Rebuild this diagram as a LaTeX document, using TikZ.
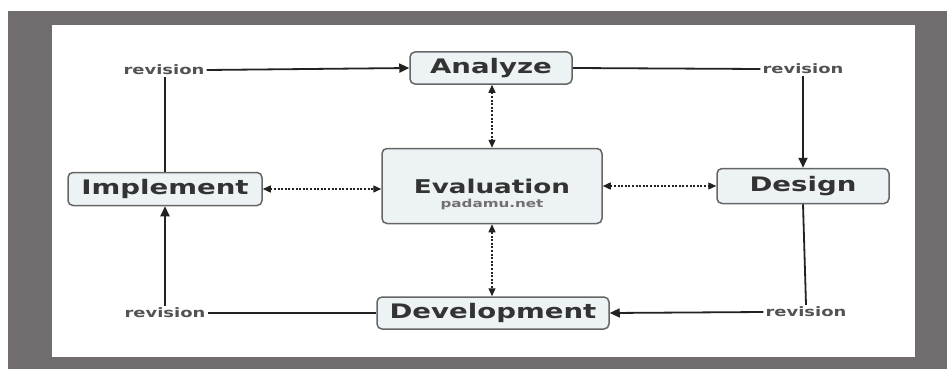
\documentclass[tikz,border=0pt]{standalone}
\usepackage{fontspec}
\usetikzlibrary{arrows.meta}
\newfontfamily\lblfont{DejaVu Sans}[FakeStretch=1.38]
\definecolor{framegray}{HTML}{716D6E}
\definecolor{boxfill}{HTML}{EDF2F4}
\definecolor{boxdraw}{HTML}{666666}
\definecolor{txt}{HTML}{333333}
\definecolor{linec}{HTML}{222222}
\tikzset{
  stagebox/.style={draw=boxdraw, fill=boxfill, rounded corners=5pt, line width=1.5pt,
    inner sep=0pt, font=\lblfont\bfseries\fontsize{20}{22}\selectfont, text=txt},
  revlabel/.style={inner sep=2pt, font=\lblfont\bfseries\fontsize{13}{14}\selectfont, text=txt!85},
  flow/.style={draw=linec, line width=1.8pt},
  flowarrow/.style={flow, -{Triangle[length=10pt,width=9pt]}},
  dots/.style={draw=linec, line width=1.3pt, dash pattern=on 2pt off 1.6pt,
    {Triangle[length=8pt,width=7pt]}-{Triangle[length=8pt,width=7pt]}}
}
\begin{document}
\begin{tikzpicture}[x=1pt,y=-1pt]
\useasboundingbox (0,0) rectangle (947,369);
% frame
\fill[framegray] (8,11) rectangle (947,369);
\fill[white] (52,25) rectangle (915,357);

% stages
\node[stagebox, minimum width=162pt, minimum height=32pt] (analyze) at (491,68) {Analyze};
\node[stagebox, minimum width=220pt, minimum height=75pt] (eval) at (492,186) {};
\node[inner sep=0pt, text=txt, font=\lblfont\bfseries\fontsize{19}{20}\selectfont] (evaltext) at (492,186) {Evaluation};
\node[inner sep=0pt, text=txt!70, font=\lblfont\bfseries\fontsize{11}{12}\selectfont] (evalsub) at (492,204) {padamu.net};
\node[stagebox, minimum width=194pt, minimum height=33pt] (impl) at (165,189) {Implement};
\node[stagebox, minimum width=172pt, minimum height=35pt] (design) at (803,186) {Design};
\node[stagebox, minimum width=232pt, minimum height=32pt] (devel) at (493,313) {Development};

% revision labels
\node[revlabel] (revTL) at (164,70) {revision};
\node[revlabel] (revTR) at (803,69) {revision};
\node[revlabel] (revBL) at (165,313) {revision};
\node[revlabel] (revBR) at (806,312) {revision};

% revision cycle
\draw[flow] (impl.north) -- (revTL.south -| impl.north);
\draw[flowarrow] (revTL.east) -- (analyze.west);
\draw[flow] (analyze.east) -- (revTR.west);
\draw[flowarrow] (revTR.south) -- (design.north);
\draw[flow] (design.south) -- (revBR.north);
\draw[flowarrow] (revBR.west) -- (devel.east);
\draw[flow] (devel.west) -- (revBL.east);
\draw[flowarrow] (revBL.north) -- (impl.south);

% evaluation links
\draw[dots] (analyze.south -| eval.north) -- (eval.north);
\draw[dots] (eval.south) -- (devel.north -| eval.south);
\draw[dots] (impl.east) -- (impl.east -| eval.west);
\draw[dots] (eval.east) -- (design.west);
\end{tikzpicture}
\end{document}
